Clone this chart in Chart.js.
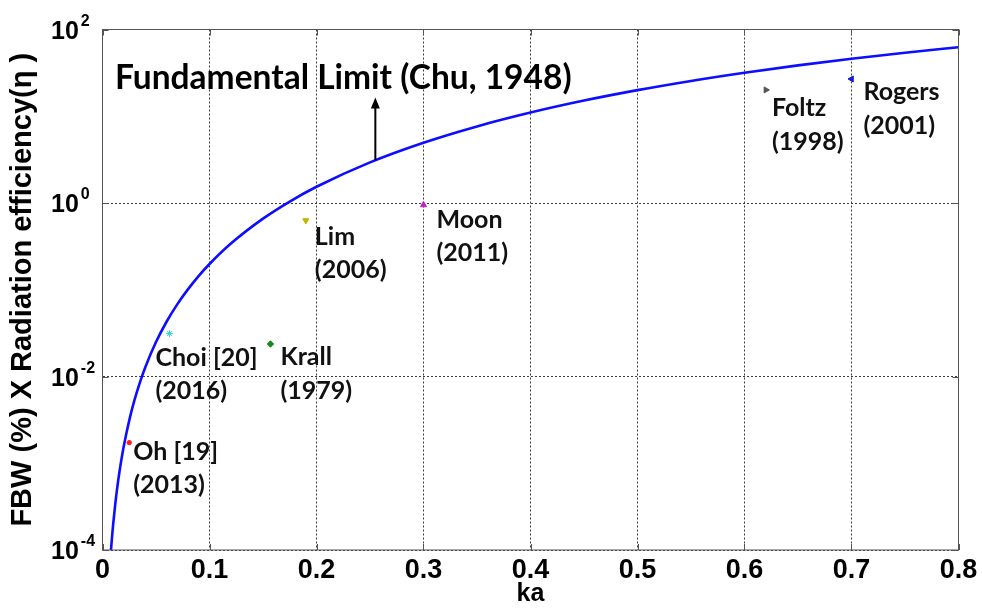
<!DOCTYPE html>
<html>
<head>
<meta charset="utf-8">
<script src="https://cdn.jsdelivr.net/npm/chart.js@4.4.1/dist/chart.umd.min.js"></script>
<style>
  html, body { margin: 0; padding: 0; background: #fff; }
  #wrap { width: 982px; height: 609px; }
</style>
</head>
<body>
<div id="wrap"><canvas id="c" width="982" height="609"></canvas></div>
<script>
// Chu limit curve: electrical size ka vs. FBW (%) x radiation efficiency
const kaCurve = [0.007, 0.008, 0.009, 0.010, 0.012, 0.014, 0.016, 0.018, 0.020, 0.025,
                 0.030, 0.035, 0.040, 0.050, 0.060, 0.070, 0.080, 0.090, 0.100, 0.120,
                 0.150, 0.175, 0.200, 0.250, 0.300, 0.350, 0.400, 0.450, 0.500, 0.550,
                 0.600, 0.650, 0.700, 0.750, 0.800];
const fbwCurve = [6.86e-5, 1.024e-4, 1.458e-4, 2.00e-4, 3.456e-4, 5.488e-4, 8.19e-4, 1.166e-3, 1.60e-3, 3.12e-3,
                  5.40e-3, 8.56e-3, 1.278e-2, 2.494e-2, 4.305e-2, 6.83e-2, 0.1017, 0.1446, 0.198, 0.3407,
                  0.660, 1.040, 1.538, 2.941, 4.954, 7.639, 11.03, 15.16, 20.0, 25.55,
                  31.76, 38.61, 46.04, 54.0, 62.44];

// Reported small antennas
const antennaNames = ['Oh [19]', 'Choi [20]', 'Krall', 'Lim', 'Moon', 'Foltz', 'Rogers'];
const antennaYears = ['(2013)', '(2016)', '(1979)', '(2006)', '(2011)', '(1998)', '(2001)'];
const antennaKa    = [0.025, 0.0626, 0.157, 0.190, 0.300, 0.620, 0.700];
const antennaFbw   = [0.00173, 0.0313, 0.0237, 0.628, 0.95, 20.1, 26.9];

// Axis ticks
const xTickValues = [0, 0.1, 0.2, 0.3, 0.4, 0.5, 0.6, 0.7, 0.8];
const xTickLabels = ['0', '0.1', '0.2', '0.3', '0.4', '0.5', '0.6', '0.7', '0.8'];
const yTickExponents = [-4, -2, 0, 2];

const curveTitle = 'Fundamental Limit (Chu, 1948)';

// Marker styling for each antenna
const markerStyles = [
  { color: '#ff1a1a', style: 'circle',   rotation: 0,   radius: 2.2 },
  { color: '#33d6d6', style: 'star',     rotation: 0,   radius: 3.5 },
  { color: '#138a13', style: 'rectRot',  rotation: 0,   radius: 3.2 },
  { color: '#c2b400', style: 'triangle', rotation: 180, radius: 3.5 },
  { color: '#c41cc4', style: 'triangle', rotation: 0,   radius: 3.5 },
  { color: '#555555', style: 'triangle', rotation: 90,  radius: 3.5 },
  { color: '#1818e0', style: 'triangle', rotation: -90, radius: 3.5 }
];
// Label offsets (px) from each marker: left edge and first-line centre
const labelOffsets = [
  { dx: 4,   dy: 9 },
  { dx: -14, dy: 24 },
  { dx: 10,  dy: 13 },
  { dx: 9,   dy: 16 },
  { dx: 13,  dy: 15 },
  { dx: 6,   dy: 18 },
  { dx: 12,  dy: 13 }
];
const labelLineGap = 33.5;

// Annotation anchors in data units
const arrowAnchor = { ka: 0.255, from: 3.11, to: 16.5 };
const titleAnchor = { ka: 0.0117, value: 20.5 };

const ARIAL = '"Liberation Sans", Arial, sans-serif';
const LABEL_FONT = 'Lato, "Open Sans", sans-serif';

const datasets = [{
  type: 'line',
  label: curveTitle,
  data: kaCurve.map((k, i) => ({ x: k, y: fbwCurve[i] })),
  borderColor: '#0d0dff',
  borderWidth: 2.6,
  pointRadius: 0,
  cubicInterpolationMode: 'monotone',
  fill: false,
  order: 1
}];
antennaNames.forEach((name, i) => {
  const s = markerStyles[i];
  datasets.push({
    type: 'scatter',
    label: name,
    data: [{ x: antennaKa[i], y: antennaFbw[i] }],
    pointStyle: s.style,
    rotation: s.rotation,
    radius: s.radius,
    pointRadius: s.radius,
    backgroundColor: s.color,
    borderColor: s.color,
    borderWidth: 1,
    order: 0
  });
});

const decorations = {
  id: 'decorations',
  afterDatasetsDraw(chart) {
    const { ctx, chartArea: a, scales: { x, y } } = chart;
    ctx.save();

    // axes box
    ctx.strokeStyle = '#555';
    ctx.lineWidth = 1;
    ctx.setLineDash([]);
    ctx.strokeRect(a.left, a.top, a.right - a.left, a.bottom - a.top);

    // inward tick marks
    ctx.beginPath();
    xTickValues.forEach(v => {
      const px = Math.round(x.getPixelForValue(v)) + 0.5;
      ctx.moveTo(px, a.bottom); ctx.lineTo(px, a.bottom - 6);
      ctx.moveTo(px, a.top);    ctx.lineTo(px, a.top + 6);
    });
    yTickExponents.forEach(e => {
      const py = Math.round(y.getPixelForValue(Math.pow(10, e))) + 0.5;
      ctx.moveTo(a.left, py);  ctx.lineTo(a.left + 6, py);
      ctx.moveTo(a.right, py); ctx.lineTo(a.right - 6, py);
    });
    ctx.stroke();

    // y tick labels: 10 with superscript exponent
    ctx.fillStyle = '#000';
    ctx.textAlign = 'left';
    ctx.textBaseline = 'alphabetic';
    yTickExponents.forEach(e => {
      const py = y.getPixelForValue(Math.pow(10, e));
      ctx.font = 'bold 25px ' + ARIAL;
      ctx.fillText('10', 51, py + 9);
      const w = ctx.measureText('10').width;
      ctx.font = 'bold 16px ' + ARIAL;
      ctx.fillText(String(e), 51 + w + 2, py - 4);
    });

    // antenna labels
    ctx.font = 'bold 25px ' + LABEL_FONT;
    ctx.textBaseline = 'middle';
    ctx.fillStyle = '#111';
    antennaNames.forEach((name, i) => {
      const px = x.getPixelForValue(antennaKa[i]);
      const py = y.getPixelForValue(antennaFbw[i]);
      const o = labelOffsets[i];
      ctx.fillText(name, px + o.dx, py + o.dy);
      ctx.fillText(antennaYears[i], px + o.dx, py + o.dy + labelLineGap);
    });

    // curve title
    ctx.font = 'bold 33.5px ' + LABEL_FONT;
    ctx.textBaseline = 'alphabetic';
    ctx.fillStyle = '#000';
    ctx.fillText(curveTitle, x.getPixelForValue(titleAnchor.ka), y.getPixelForValue(titleAnchor.value));

    // arrow from the curve up to the title
    const ax = x.getPixelForValue(arrowAnchor.ka);
    const y0 = y.getPixelForValue(arrowAnchor.from);
    const y1 = y.getPixelForValue(arrowAnchor.to);
    ctx.strokeStyle = '#000';
    ctx.lineWidth = 2;
    ctx.beginPath();
    ctx.moveTo(ax, y0);
    ctx.lineTo(ax, y1 + 8);
    ctx.stroke();
    ctx.beginPath();
    ctx.moveTo(ax, y1);
    ctx.lineTo(ax - 4.5, y1 + 11);
    ctx.lineTo(ax + 4.5, y1 + 11);
    ctx.closePath();
    ctx.fill();

    ctx.restore();
  }
};

new Chart(document.getElementById('c'), {
  data: { datasets },
  options: {
    responsive: false,
    devicePixelRatio: 1,
    animation: false,
    layout: { padding: { left: 0, top: 29.5, right: 23.5, bottom: 0 } },
    plugins: { legend: { display: false }, tooltip: { enabled: false } },
    scales: {
      x: {
        type: 'linear',
        min: 0,
        max: 0.8,
        afterBuildTicks: s => { s.ticks = xTickValues.map(v => ({ value: v })); },
        afterFit: s => { s.height = 59; },
        ticks: {
          autoSkip: false,
          maxRotation: 0,
          padding: 4,
          color: '#000',
          font: { family: ARIAL, size: 27, weight: 'bold', lineHeight: 1.2 },
          callback: (v, i) => xTickLabels[i]
        },
        grid: { color: '#3c3c3c', lineWidth: 1, drawTicks: false },
        border: { display: false, dash: [2, 2] },
        title: {
          display: true,
          text: 'ka',
          color: '#000',
          font: { family: ARIAL, size: 25, weight: 'bold', lineHeight: 1.2 },
          padding: { top: 0, bottom: 0 }
        }
      },
      y: {
        type: 'logarithmic',
        min: 1e-4,
        max: 1e2,
        afterBuildTicks: s => { s.ticks = yTickExponents.map(e => ({ value: Math.pow(10, e) })); },
        afterFit: s => { s.width = 102.5; },
        ticks: { display: false },
        grid: { color: '#3c3c3c', lineWidth: 1, drawTicks: false },
        border: { display: false, dash: [2, 2] },
        title: {
          display: true,
          text: 'FBW (%) X Radiation efficiency(η )',
          color: '#000',
          font: { family: ARIAL, size: 29, weight: 'bold', lineHeight: 1.2 },
          padding: { top: 6, bottom: 0 }
        }
      }
    }
  },
  plugins: [decorations]
});
</script>
</body>
</html>
